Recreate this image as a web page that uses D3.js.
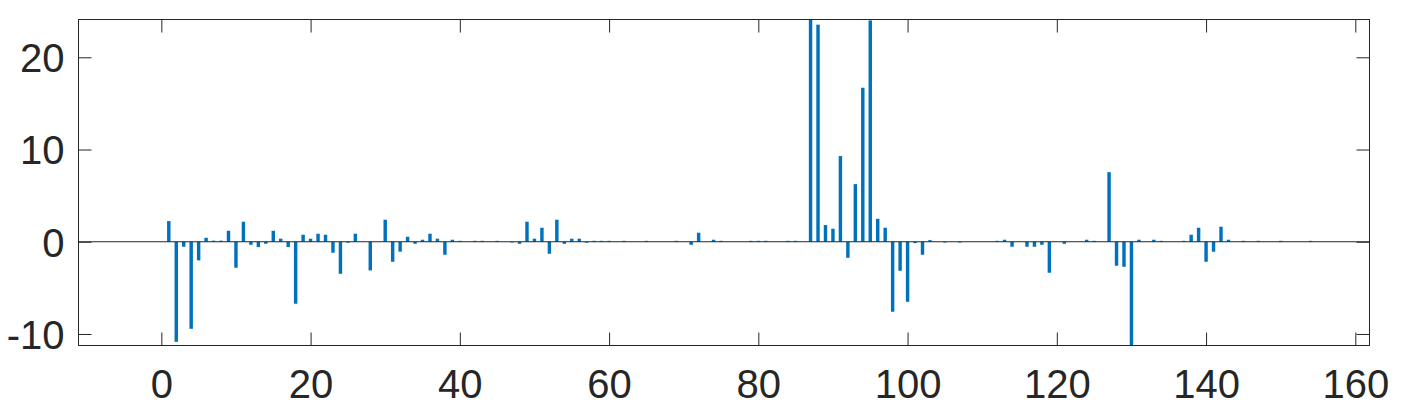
<!DOCTYPE html>
<html>
<head>
<meta charset="utf-8">
<script src="https://cdn.jsdelivr.net/npm/d3@7"></script>
<style>
  html, body { margin: 0; padding: 0; background: #ffffff; }
  svg { display: block; }
</style>
</head>
<body>
<svg id="chart" width="1405" height="406"></svg>
<script>
// ---- data (index 1..154) ----
const indices = d3.range(1, 155);
const values = [
  2.24, -10.85, -0.54, -9.44, -2.02, 0.43, 0.12, 0.12, 1.19, -2.82,
  2.17, -0.33, -0.58, -0.22, 1.19, 0.33, -0.58, -6.72, 0.76, 0.33,
  0.87, 0.76, -1.19, -3.47, -0.11, 0.87, 0, -3.11, 0, 2.39,
  -2.17, -1.08, 0.54, -0.22, 0.22, 0.87, 0.33, -1.41, 0.22, 0.1,
  0, 0.1, 0.1, 0, 0.1, 0, -0.08, -0.22, 2.17, 0.33,
  1.52, -1.30, 2.39, -0.22, 0.33, 0.33, -0.1, 0.1, 0.1, 0.1,
  0, 0.1, 0, 0, 0.1, 0, 0, 0, 0.1, 0,
  -0.33, 0.98, 0, 0.22, 0.1, 0, 0, 0, 0.1, 0.1,
  0.1, 0, 0, 0.1, 0.1, 0, 27, 23.54, 1.81, 1.41,
  9.29, -1.74, 6.25, 16.70, 24.0, 2.49, 1.52, -7.59, -3.15, -6.51,
  -0.15, -1.41, 0.18, 0, -0.08, 0, -0.08, 0, 0, 0,
  0, 0.1, 0.22, -0.54, 0, -0.54, -0.54, -0.33, -3.36, 0,
  -0.22, 0, 0, 0.22, 0.1, 0, 7.55, -2.60, -2.71, -12,
  0.22, 0, 0.22, 0.1, 0, 0, 0.1, 0.76, 1.52, -2.17,
  -1.08, 1.63, 0.22, 0, 0.1, 0, 0.1, 0, 0, 0.1,
  0, 0, 0, 0.1
];
const xTicks = [0, 20, 40, 60, 80, 100, 120, 140, 160];
const yTicks = [-10, 0, 10, 20];
const xDomain = [-11.1, 161.9];
const yDomain = [-11.25, 24.1];

// ---- layout ----
const plotL = 78.5, plotR = 1369.5, plotT = 19.5, plotB = 345.5;
const axisColor = "#262626";
const barColor = "#0072BD";
const tickLen = 13;
const fontFamily = "'Liberation Sans', Arial, Helvetica, sans-serif";
const fontSize = 40;
const barWidthUnits = 0.46;

const svg = d3.select("#chart");
const x = d3.scaleLinear().domain(xDomain).range([plotL, plotR]);
const y = d3.scaleLinear().domain(yDomain).range([plotB, plotT]);

svg.append("defs").append("clipPath").attr("id", "plotclip")
  .append("rect")
  .attr("x", plotL).attr("y", plotT)
  .attr("width", plotR - plotL).attr("height", plotB - plotT);

const bw = x(barWidthUnits) - x(0);
const data = indices.map((d, i) => ({ i: d, v: values[i] }));

svg.append("g").attr("clip-path", "url(#plotclip)")
  .selectAll("rect").data(data.filter(d => d.v !== 0)).join("rect")
  .attr("x", d => x(d.i) - bw / 2)
  .attr("width", bw)
  .attr("y", d => Math.min(y(d.v), y(0)))
  .attr("height", d => Math.abs(y(d.v) - y(0)))
  .attr("fill", barColor);

// zero baseline
svg.append("line")
  .attr("x1", plotL).attr("x2", plotR)
  .attr("y1", y(0)).attr("y2", y(0))
  .attr("stroke", axisColor).attr("stroke-width", 1);

// axes (inward ticks, labels bottom/left)
const xAxisB = d3.axisBottom(x).tickValues(xTicks).tickSizeInner(-tickLen).tickSizeOuter(0);
const xAxisT = d3.axisTop(x).tickValues(xTicks).tickSizeInner(-tickLen).tickSizeOuter(0).tickFormat("");
const yAxisL = d3.axisLeft(y).tickValues(yTicks).tickSizeInner(-tickLen).tickSizeOuter(0).tickPadding(14)
  .tickFormat(d => d < 0 ? "-" + Math.abs(d) : String(d));
const yAxisR = d3.axisRight(y).tickValues(yTicks).tickSizeInner(-tickLen).tickSizeOuter(0).tickFormat("");

function style(g) {
  g.select(".domain").remove();
  g.selectAll(".tick line").attr("stroke", axisColor).attr("stroke-width", 1);
  g.selectAll(".tick text").attr("fill", axisColor)
    .style("font-family", fontFamily).style("font-size", fontSize + "px");
}

svg.append("g").attr("transform", `translate(0,${plotB})`).call(xAxisB).call(style)
  .selectAll(".tick text").attr("dy", null).attr("y", 52);
svg.append("g").attr("transform", `translate(0,${plotT})`).call(xAxisT).call(style);
svg.append("g").attr("transform", `translate(${plotL},0)`).call(yAxisL).call(style)
  .selectAll(".tick text").attr("dy", "0.36em");
svg.append("g").attr("transform", `translate(${plotR},0)`).call(yAxisR).call(style);

// frame
svg.append("rect")
  .attr("x", plotL).attr("y", plotT)
  .attr("width", plotR - plotL).attr("height", plotB - plotT)
  .attr("fill", "none").attr("stroke", axisColor).attr("stroke-width", 1);
</script>
</body>
</html>
